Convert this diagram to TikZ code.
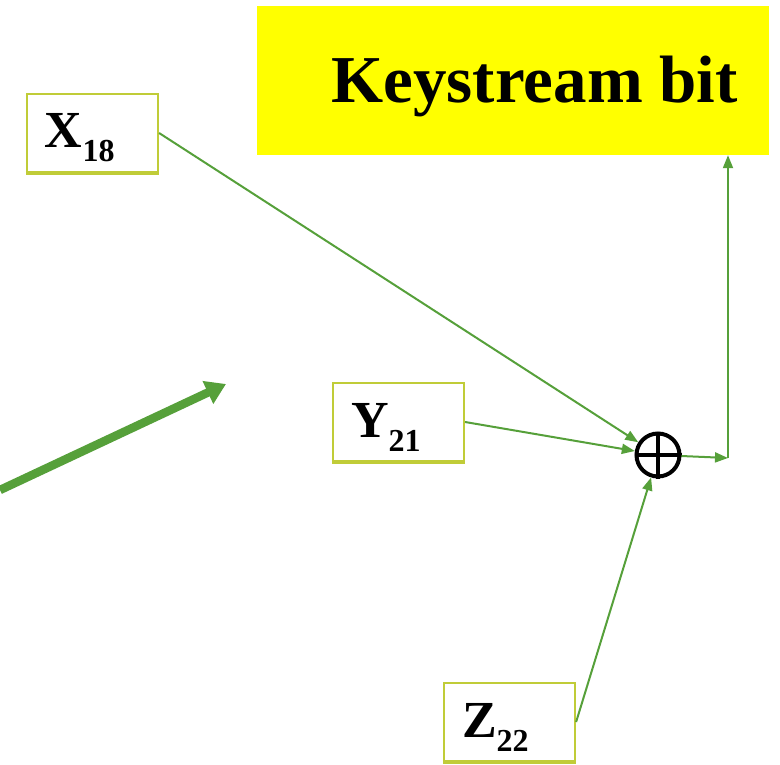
\documentclass[tikz,border=0pt]{standalone}
\usepackage{fontspec}
\setmainfont{Liberation Serif}
\usetikzlibrary{arrows.meta}
\definecolor{wiregreen}{RGB}{86,160,58}
\definecolor{boxolive}{RGB}{192,204,56}
\definecolor{bityellow}{RGB}{255,255,0}
\newcommand{\regbit}[2]{\fontsize{52}{52}\selectfont\bfseries\rule{0pt}{44pt}#1\raisebox{-14pt}{\fontsize{32}{32}\selectfont #2}}
\begin{document}
\begin{tikzpicture}[x=1pt,y=-1pt,
  regbox/.style={draw=boxolive, line width=2.2pt, minimum height=78pt,
    text width=95pt, inner xsep=18pt, align=left},
  wire/.style={draw=wiregreen, line width=2pt,
    -{Triangle[length=13pt,width=10pt]}}]
  \useasboundingbox (0,0) rectangle (780,764);
  % output box
  \node[fill=bityellow, minimum width=512pt, minimum height=149pt] (keybit) at (513,80.5) {};
  \node[font=\fontsize{67}{67}\selectfont\bfseries, anchor=base east, inner sep=0pt]
    (keylabel) at (738,102) {Keystream bit};
  % register taps
  \node[regbox] (x18) at (92.5,133) {\regbit{X}{18}};
  \node[regbox] (y21) at (398.5,422) {\regbit{Y}{21}};
  \node[regbox] (z22) at (509.5,722) {\regbit{Z}{22}};
  \foreach \reg in {x18,y21,z22}
    \draw[boxolive, line width=4pt] (\reg.south west) -- (\reg.south east);
  % xor
  \node[circle, draw, line width=4pt, minimum size=43pt] (xor) at (658,455) {};
  \draw[line width=3.5pt] (xor.north) -- (xor.south) (xor.west) -- (xor.east);
  \coordinate (corner) at (728,458);
  \draw[wire] (x18.east) -- (xor);
  \draw[wire] (y21.east) -- (xor);
  \draw[wire] (z22.east) -- (xor);
  \draw[wire] (xor) -- (corner);
  \draw[wire] (corner) -- (corner |- keybit.south);
  % feed arrow
  \coordinate (feedin) at (0,490);
  \coordinate (feedout) at (226,384);
  \draw[wiregreen, line width=8.5pt, -{Triangle[length=20pt,width=24pt]}] (feedin) -- (feedout);
\end{tikzpicture}
\end{document}
